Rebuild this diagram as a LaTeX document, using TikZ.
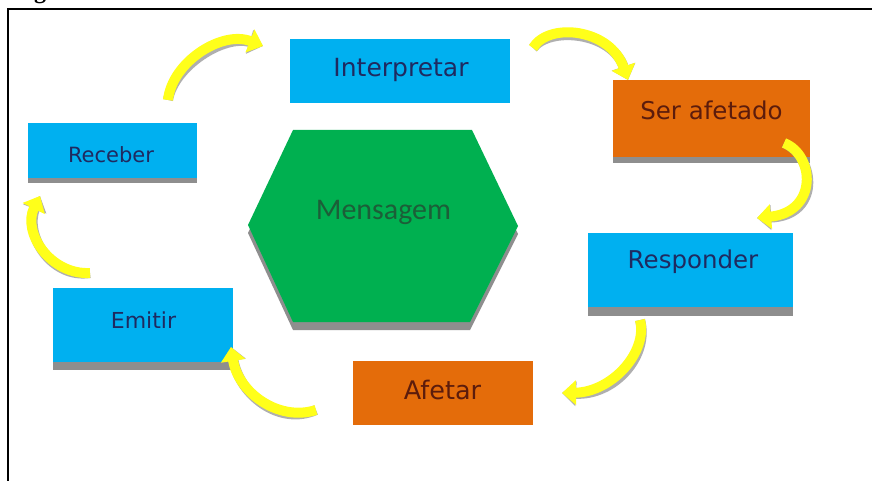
\documentclass[tikz,border=0pt]{standalone}
\usepackage{fontspec}
\setmainfont{DejaVu Sans}
\newfontfamily\hexfont{Carlito}
\newfontfamily\capfont{Liberation Serif}
\usetikzlibrary{arrows.meta}

\definecolor{boxblue}{HTML}{00B0F0}
\definecolor{boxorange}{HTML}{E46C0A}
\definecolor{hexgreen}{HTML}{00B050}
\definecolor{navytext}{HTML}{1F2A60}
\definecolor{browntext}{HTML}{5C1C0C}
\definecolor{greentext}{HTML}{1C5E38}
\definecolor{arrowyellow}{HTML}{FFFF1A}
\definecolor{shadowgray}{HTML}{8E8E8E}

\tikzset{
  stagebox/.style={rectangle, inner sep=0pt, outer sep=0pt, draw=none},
  bluebox/.style={stagebox, fill=boxblue},
  orangebox/.style={stagebox, fill=boxorange},
  bluelabel/.style={inner sep=0pt, text=navytext},
  orangelabel/.style={inner sep=0pt, text=browntext},
  boxshadow/.style={fill=shadowgray},
  flow/.style={line width=10pt, draw=arrowyellow,
    -{Triangle[length=14pt,width=24pt]}},
  flowshadow/.style={line width=10pt, draw=shadowgray, opacity=0.7,
    -{Triangle[length=14pt,width=24pt]}},
}

\newcommand{\fsz}[1]{\fontsize{#1}{#1}\selectfont}

\begin{document}
\begin{tikzpicture}[x=1pt,y=-1pt]
\useasboundingbox (0,0) rectangle (872,481);
\fill[white] (0,0) rectangle (872,481);

% caption fragment above the frame
\node[font=\capfont\bfseries\fsz{24}, anchor=base, inner sep=0pt] (capg) at (40,-1.5) {g};

% frame
\draw[line width=1.6pt] (8,481) -- (8,9) -- (872,9);

% central hexagon with its shadow
\fill[shadowgray] (293,138) -- (472,138) -- (518,234) -- (470,330) -- (293,330) -- (248,233) -- cycle;
\fill[hexgreen] (293,130) -- (472,130) -- (518,226) -- (470,322) -- (293,322) -- (248,225) -- cycle;
\node[font=\hexfont\fsz{30}, text=greentext, inner sep=0pt] (msg) at (383.5,212) {Mensagem};

% stage boxes
\node[bluebox, minimum width=220pt, minimum height=64pt] (interp) at (400,71) {};
\node[orangebox, minimum width=197pt, minimum height=77pt] (afetado) at (711.5,118.5) {};
\node[bluebox, minimum width=169pt, minimum height=55pt] (receber) at (112.5,150.5) {};
\node[bluebox, minimum width=180pt, minimum height=74pt] (emitir) at (143,325) {};
\node[bluebox, minimum width=205pt, minimum height=74pt] (resp) at (690.5,270) {};
\node[orangebox, minimum width=180pt, minimum height=64pt] (afetar) at (443,393) {};

% shadows under the boxes
\fill[boxshadow] (afetado.south west) rectangle ([yshift=-6pt]afetado.south east);
\fill[boxshadow] (receber.south west) rectangle ([yshift=-5pt]receber.south east);
\fill[boxshadow] (emitir.south west) rectangle ([yshift=-8pt]emitir.south east);
\fill[boxshadow] (resp.south west) rectangle ([yshift=-9pt]resp.south east);

% labels
\node[bluelabel, font=\fsz{25}] (interpL) at (401,70) {Interpretar};
\node[orangelabel, font=\fsz{24.5}] (afetadoL) at (711.5,110) {Ser afetado};
\node[bluelabel, font=\fsz{21}] (receberL) at (111,155) {Receber};
\node[bluelabel, font=\fsz{22}] (emitirL) at (143.5,320) {Emitir};
\node[bluelabel, font=\fsz{24.5}] (respL) at (693,262) {Responder};
\node[orangelabel, font=\fsz{25.5}] (afetarL) at (442.5,390) {Afetar};

% ends of the curved arrows
\coordinate (a1s) at (168,100); \coordinate (a1e) at (263,46);
\coordinate (a2s) at (533,48);  \coordinate (a2e) at (628,80);
\coordinate (a3s) at (784,143); \coordinate (a3e) at (757,218);
\coordinate (a4s) at (640,320); \coordinate (a4e) at (562,393);
\coordinate (a5s) at (316,410); \coordinate (a5e) at (231,347);
\coordinate (a6s) at (90,273);  \coordinate (a6e) at (40,196);

% arrow shadows
\begin{scope}[shift={(2,4)}]
\draw[flowshadow] (a1s) .. controls (172,62) and (222,30) .. (a1e);
\draw[flowshadow] (a2s) .. controls (548,22) and (610,28) .. (a2e);
\draw[flowshadow] (a3s) .. controls (815,155) and (818,212) .. (a3e);
\draw[flowshadow] (a4s) .. controls (648,352) and (612,392) .. (a4e);
\draw[flowshadow] (a5s) .. controls (278,422) and (238,392) .. (a5e);
\draw[flowshadow] (a6s) .. controls (50,275) and (22,232) .. (a6e);
\end{scope}

% yellow curved arrows
\draw[flow] (a1s) .. controls (172,62) and (222,30) .. (a1e);
\draw[flow] (a2s) .. controls (548,22) and (610,28) .. (a2e);
\draw[flow] (a3s) .. controls (815,155) and (818,212) .. (a3e);
\draw[flow] (a4s) .. controls (648,352) and (612,392) .. (a4e);
\draw[flow] (a5s) .. controls (278,422) and (238,392) .. (a5e);
\draw[flow] (a6s) .. controls (50,275) and (22,232) .. (a6e);
\end{tikzpicture}
\end{document}
